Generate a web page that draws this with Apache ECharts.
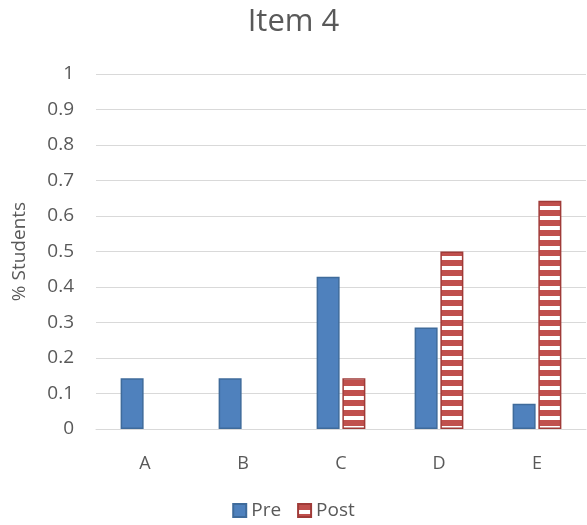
<!DOCTYPE html>
<html><head><meta charset="utf-8">
<script src="https://cdn.jsdelivr.net/npm/echarts@6/dist/echarts.min.js"></script>
<style>html,body{margin:0;padding:0;background:#fff}#c{width:587px;height:525px}</style>
</head><body><div id="c"></div>
<script>
const categories = ['A','B','C','D','E'];
const preValues = [0.143, 0.143, 0.429, 0.286, 0.071];
const postValues = [0, 0, 0.143, 0.5, 0.643];
const yTicks = [0,0.1,0.2,0.3,0.4,0.5,0.6,0.7,0.8,0.9,1];

function stripe(){
  const c = document.createElement('canvas');
  c.width = 10; c.height = 10;
  const g = c.getContext('2d');
  g.fillStyle = '#ffffff'; g.fillRect(0,0,10,10);
  g.fillStyle = '#C0504D'; g.fillRect(0,0,10,6);
  return c;
}
const pat = {image: stripe(), repeat: 'repeat'};
const font = '"Open Sans", "Noto Sans", sans-serif';
const chart = echarts.init(document.getElementById('c'));
chart.setOption({
  animation:false,
  title:{text:'Item 4', left:'center', top:2, textStyle:{fontFamily:font, fontSize:31, fontWeight:'normal', color:'#595959'}},
  grid:{left:96, right:1, top:74, bottom:96},
  legend:{bottom:0, left:'center', itemWidth:13, itemHeight:13, itemGap:16, icon:'rect',
    textStyle:{fontFamily:font, fontSize:19, color:'#595959'}, data:['Pre','Post']},
  xAxis:{type:'category', data:categories,
    axisLine:{lineStyle:{color:'#d9d9d9'}}, axisTick:{show:false},
    axisLabel:{fontFamily:font, fontSize:18, color:'#595959', margin:26}},
  yAxis:{type:'value', min:0, max:1, interval:0.1,
    name:'% Students', nameLocation:'middle', nameGap:67, nameRotate:90,
    nameTextStyle:{fontFamily:font, fontSize:19, color:'#595959'},
    axisLabel:{fontFamily:font, fontSize:19, color:'#595959', margin:22,
      formatter:v=>{const t=yTicks.find(x=>Math.abs(x-v)<1e-9);return String(t!==undefined?t:v);}},
    splitLine:{lineStyle:{color:'#d9d9d9'}}},
  series:[
    {name:'Pre', type:'bar', data:preValues, barWidth:23, barGap:'12%',
     itemStyle:{color:'#4F81BD', borderColor:'#3F6B9B', borderWidth:1.5}},
    {name:'Post', type:'bar', barWidth:23,
     data:postValues.map(v=>({value:v, itemStyle:v===0?{borderWidth:0}:{}})),
     itemStyle:{color:pat, borderColor:'#A03B38', borderWidth:1.5}}
  ]
});
</script></body></html>
